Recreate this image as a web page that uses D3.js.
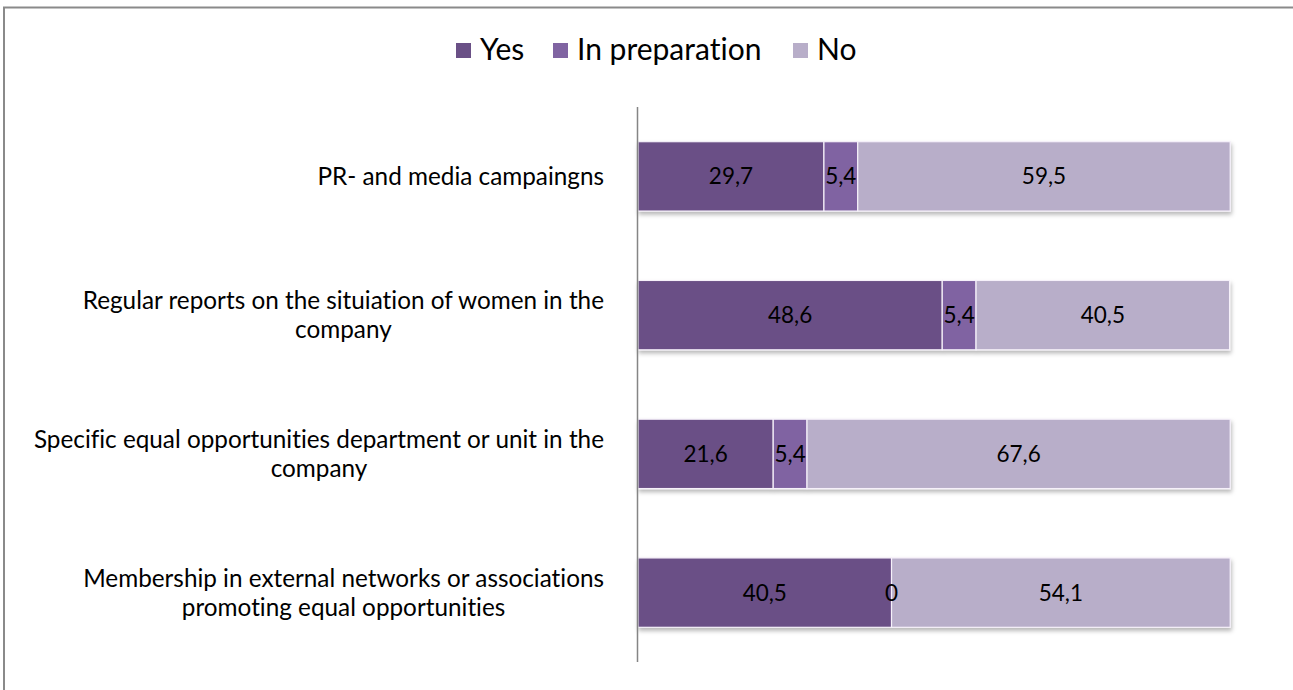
<!DOCTYPE html>
<html>
<head>
<meta charset="utf-8">
<script src="https://cdn.jsdelivr.net/npm/d3@7"></script>
<style>
  html, body { margin: 0; padding: 0; background: #fff; }
  svg { display: block; font-family: Lato, "Open Sans", sans-serif; font-variant-ligatures: none; }
</style>
</head>
<body>
<svg id="chart" width="1293" height="690"></svg>
<script>
// Survey measures and their answer shares (percent)
const categories = [
  ["PR- and media campaingns"],
  ["Regular reports on the situiation of women in the", "company"],
  ["Specific equal opportunities department or unit in the", "company"],
  ["Membership in external networks or associations", "promoting equal opportunities"]
];
const seriesNames = ["Yes", "In preparation", "No"];
const yesValues = [29.7, 48.6, 21.6, 40.5];
const prepValues = [5.4, 5.4, 5.4, 0];
const noValues = [59.5, 40.5, 67.6, 54.1];
const colors = ["#6a5086", "#8064a2", "#b8aec9"];

const svg = d3.select("#chart");
const W = 1293, H = 690;

// outer frame
svg.append("rect")
  .attr("x", 4).attr("y", 7.5)
  .attr("width", W + 10).attr("height", H + 10)
  .attr("fill", "none").attr("stroke", "#8a8a8a").attr("stroke-width", 2);

// shadow under bars
const defs = svg.append("defs");
const f = defs.append("filter").attr("id", "shadow")
  .attr("x", "-5%").attr("y", "-20%").attr("width", "110%").attr("height", "150%");
f.append("feDropShadow").attr("dx", 1).attr("dy", 3).attr("stdDeviation", 2)
  .attr("flood-color", "#000").attr("flood-opacity", 0.28);

const rowKeys = categories.map(c => c.join(" "));
const x = d3.scaleLinear().domain([0, 100]).range([638, 1264]);
const y = d3.scaleBand().domain(rowKeys).range([107, 662])
  .paddingInner(0.5).paddingOuter(0.25);

const rows = rowKeys.map((k, i) => ({ key: k, values: [yesValues[i], prepValues[i], noValues[i]] }));
const stacked = d3.stack().keys([0, 1, 2]).value((d, k) => d.values[k])(rows);

// bars
const barG = svg.append("g");
rows.forEach((r, i) => {
  const g = barG.append("g").attr("filter", "url(#shadow)");
  stacked.forEach((layer, s) => {
    const d = layer[i];
    g.append("rect")
      .attr("x", x(d[0]))
      .attr("y", y(r.key))
      .attr("width", Math.max(0, x(d[1]) - x(d[0])))
      .attr("height", y.bandwidth())
      .attr("fill", colors[s])
      .attr("stroke", "#f6f1fa").attr("stroke-width", 1.2);
  });
});

// value labels
rows.forEach((r, i) => {
  stacked.forEach((layer, s) => {
    const d = layer[i];
    svg.append("text")
      .attr("x", (x(d[0]) + x(d[1])) / 2)
      .attr("y", y(r.key) + y.bandwidth() / 2)
      .attr("dy", "0.36em")
      .attr("text-anchor", "middle")
      .attr("font-size", 22.5)
      .attr("fill", "#000")
      .text(String(r.values[s]).replace(".", ","));
  });
});

// category axis line
const yAxis = svg.append("g").attr("transform", "translate(637.5,0)")
  .call(d3.axisLeft(y).tickSize(0).tickFormat(""));
yAxis.select(".domain").attr("stroke", "#858585").attr("stroke-width", 1.5)
  .attr("d", `M0,${y.range()[0]}V${y.range()[1]}`);

// category labels: right-aligned block with centered lines
const labelRight = 604, lineH = 29;
categories.forEach((lines, i) => {
  const cy = y(rowKeys[i]) + y.bandwidth() / 2;
  const g = svg.append("g");
  const texts = lines.map((t, j) => g.append("text")
    .attr("y", cy + (j - (lines.length - 1) / 2) * lineH)
    .attr("dy", "0.36em")
    .attr("text-anchor", "middle")
    .attr("font-size", 24.3)
    .attr("fill", "#000")
    .text(t));
  const wMax = d3.max(texts, t => t.node().getComputedTextLength());
  texts.forEach(t => t.attr("x", labelRight - wMax / 2));
});

// legend
const legendItems = [
  { name: seriesNames[0], sx: 456, tx: 480 },
  { name: seriesNames[1], sx: 553, tx: 577 },
  { name: seriesNames[2], sx: 793, tx: 817 }
];
const lg = svg.append("g");
legendItems.forEach((it, i) => {
  lg.append("rect").attr("x", it.sx).attr("y", 43).attr("width", 15).attr("height", 15)
    .attr("fill", colors[i]);
  lg.append("text").attr("x", it.tx).attr("y", 60)
    .attr("font-size", 30).attr("fill", "#000").text(it.name);
});
</script>
</body>
</html>
